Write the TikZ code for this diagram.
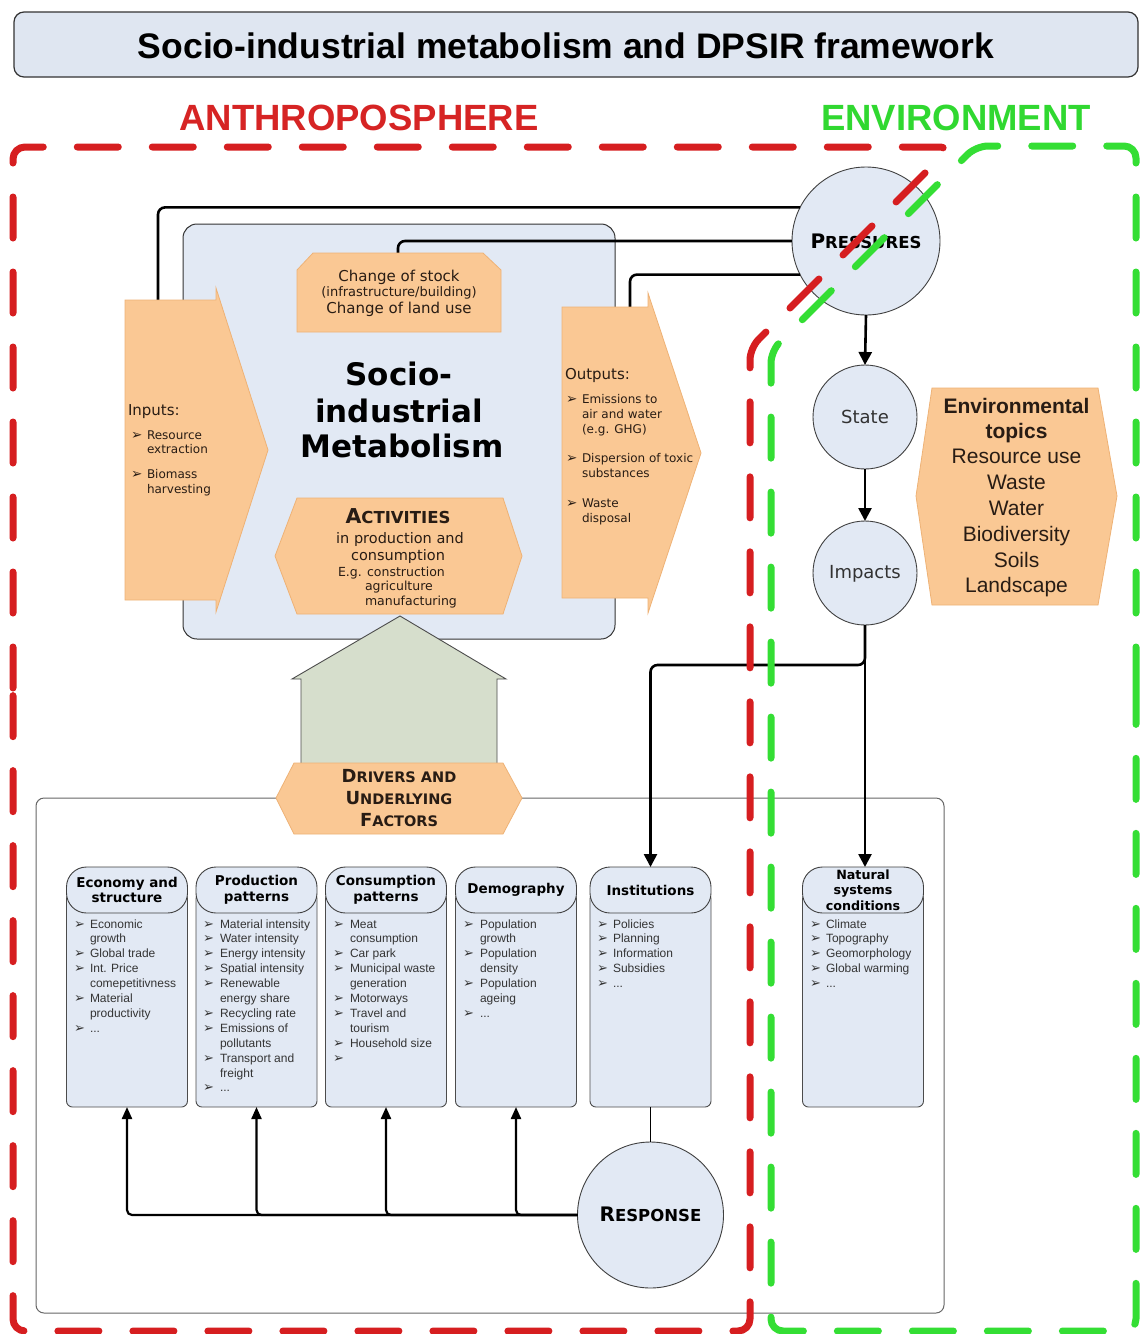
\documentclass[tikz,border=0pt]{standalone}
\usepackage{fontspec}
\setmainfont{DejaVu Sans}
\newfontfamily\arialfont{Liberation Sans}
\usetikzlibrary{arrows.meta}

\definecolor{boxblue}{RGB}{226,233,244}
\definecolor{titlefill}{RGB}{223,230,241}
\definecolor{orfill}{RGB}{250,200,148}
\definecolor{ordraw}{RGB}{238,178,118}
\definecolor{housefill}{RGB}{214,222,204}
\definecolor{redline}{RGB}{214,30,32}
\definecolor{greenline}{RGB}{52,222,52}
\definecolor{redtxt}{RGB}{214,36,36}
\definecolor{greentxt}{RGB}{48,216,48}
\definecolor{itemgray}{RGB}{52,52,52}
\definecolor{ortxt}{RGB}{40,28,20}
\definecolor{circtxt}{RGB}{50,50,50}

\newcommand\setfs[2]{\fontsize{#1}{#2}\selectfont}
\newcommand\tdots{...}

% bulleted item lines of one factor column: prefix, bullet x, text x, list
\newcommand\colitems[4]{%
  \foreach \ib/\itx [count=\k] in {#4} {%
    \node[itemtext,anchor=base west] (#1t\k) at (#3,{928+(\k-1)*14.9}) {\itx};
    \ifnum\ib=1 \node[bullet,anchor=base west] (#1b\k) at (#2,{928+(\k-1)*14.9}) {➢};\fi
  }}

\begin{document}
\begin{tikzpicture}[x=1pt,y=-1pt,
  every node/.style={inner sep=0pt,outer sep=0pt},
  conn/.style={line width=2.6pt,rounded corners=7pt},
  arr/.style={conn,-{Triangle[width=13pt,length=13pt]}},
  sarr/.style={line width=2.2pt,rounded corners=5pt,-{Triangle[width=10pt,length=12pt]}},
  orshape/.style={fill=orfill,draw=ordraw,line width=0.8pt},
  dpsir/.style={circle,fill=boxblue,draw=black!75,line width=0.9pt},
  hdr/.style={rounded corners=20pt,fill=boxblue,draw=black!75,line width=0.9pt,
    minimum width=121pt,minimum height=46pt,align=center,font=\bfseries\setfs{13.5}{15.5}},
  colbody/.style={rounded corners=6pt,fill=boxblue,draw=black!70,line width=0.9pt,
    minimum width=121pt,minimum height=214pt},
  itemtext/.style={font=\arialfont\setfs{12}{14},text=itemgray},
  bullet/.style={font=\setfs{13}{13},text=itemgray},
  ortext/.style={text=ortxt},
  obullet/.style={ortext,anchor=base west,font=\setfs{13.5}{13.5}},
  border/.style={line width=7pt,dash pattern=on 41pt off 34pt,line cap=round,
    line join=round,rounded corners=12pt},
]
\useasboundingbox (0,0) rectangle (1140,1334);
\fill[white] (0,0) rectangle (1140,1334);

% ---------- heading ----------
\node[draw=black!80,line width=1.2pt,fill=titlefill,rounded corners=10pt,
  minimum width=1124pt,minimum height=65pt] (titlebox) at (576,44.5) {};
\node[anchor=base,font=\arialfont\bfseries\setfs{35.5}{40}] (title) at (566,58)
  {Socio-industrial metabolism and DPSIR framework};
\node[anchor=base,font=\arialfont\bfseries\setfs{36.5}{40},text=redtxt] (anthro) at (359,130) {ANTHROPOSPHERE};
\node[anchor=base,font=\arialfont\bfseries\setfs{36.5}{40},text=greentxt] (envir) at (956,130) {ENVIRONMENT};

% ---------- frames ----------
\node[fill=boxblue,draw=black!80,line width=1pt,rounded corners=14pt,
  minimum width=432pt,minimum height=415pt] (sim) at (399,431.5) {};
\node[draw=black!60,line width=1pt,rounded corners=8pt,
  minimum width=908pt,minimum height=515pt] (dbox) at (490,1055.5) {};

% ---------- DPSIR circles ----------
\node[dpsir,minimum size=148pt] (P) at (866,241) {};
\node[dpsir,minimum size=104pt] (S) at (865,417) {};
\node[dpsir,minimum size=104pt] (I) at (865,573) {};
\node[dpsir,minimum size=146pt] (R) at (650.5,1215) {};
\node[anchor=base,font=\bfseries] (Ptxt) at (866,248) {{\setfs{20}{20}P}{\setfs{16.5}{16.5}RESSURES}};
\node[anchor=base,font=\setfs{18}{18},text=circtxt] (Stxt) at (865,423) {State};
\node[anchor=base,font=\setfs{18}{18},text=circtxt] (Itxt) at (865,578) {Impacts};
\node[anchor=base,font=\bfseries] (Rtxt) at (650.5,1221) {{\setfs{20}{20}R}{\setfs{16.5}{16.5}ESPONSE}};

% ---------- pressure links ----------
\coordinate (inTop) at (158,300);
\coordinate (stockTop) at (398,253);
\coordinate (outTop) at (630,307);
\draw[conn] (P.153) -| (inTop);
\draw[conn] (P.west) -| (stockTop);
\draw[conn] (P.207) -| (outTop);
\draw[arr] (P.south) -- (S.north);
\draw[arr] (S.south) -- (I.north);

% ---------- flows of the metabolism ----------
\draw[orshape] (125,300) -- (216,300) -- (216,288) -- (268,450) -- (216,612) -- (216,600) -- (125,600) -- cycle;
\draw[orshape] (562,307) -- (648,307) -- (648,293) -- (701,453) -- (648,613) -- (648,598) -- (562,598) -- cycle;
\draw[orshape] (297,332) -- (297,270) -- (313,253) -- (483,253) -- (501,270) -- (501,332) -- cycle;
\draw[orshape] (297,498) -- (503,498) -- (522,556) -- (503,614) -- (297,614) -- (275,556) -- cycle;

% inputs
\node[ortext,anchor=base west,font=\setfs{15}{15}] (inlab) at (128,415) {Inputs:};
\foreach \yy/\itx [count=\k] in {439/Resource,453/extraction,478/Biomass,493/harvesting}
  \node[ortext,anchor=base west,font=\setfs{12}{12}] (int\k) at (147,\yy) {\itx};
\node[obullet] (inb1) at (131,439) {➢};
\node[obullet] (inb2) at (131,478) {➢};

% outputs
\node[ortext,anchor=base west,font=\setfs{15}{15}] (outlab) at (565,379) {Outputs:};
\foreach \yy/\itx [count=\k] in {403/Emissions to,418/air and water,433/(e.g. GHG),462/Dispersion of toxic,477/substances,507/Waste,522/disposal}
  \node[ortext,anchor=base west,font=\setfs{12}{12}] (outt\k) at (582,\yy) {\itx};
\foreach \yy [count=\k] in {403,462,507}
  \node[obullet] (outb\k) at (566,\yy) {➢};

% change of stock
\node[ortext,anchor=base,font=\setfs{15}{15}] (st1) at (399,281) {Change of stock};
\node[ortext,anchor=base,font=\setfs{13}{13}] (st2) at (399,296) {(infrastructure/building)};
\node[ortext,anchor=base,font=\setfs{15}{15}] (st3) at (399,313) {Change of land use};

% central title
\node[anchor=base,font=\bfseries\setfs{31}{31}] (sim1) at (399,385) {Socio-};
\node[anchor=base,font=\bfseries\setfs{31}{31}] (sim2) at (399,422) {industrial};
\node[anchor=base,font=\bfseries\setfs{31}{31}] (sim3) at (402,457) {Metabolism};

% activities
\node[ortext,anchor=base,font=\bfseries] (act1) at (398,523) {{\setfs{20.5}{20}A}{\setfs{16.5}{16}CTIVITIES}};
\node[ortext,anchor=base,font=\setfs{14.5}{14.5}] (act2) at (400,543) {in production and};
\node[ortext,anchor=base,font=\setfs{14.5}{14.5}] (act3) at (398,560) {consumption};
\node[ortext,anchor=base west,font=\setfs{12.5}{12.5}] (act4) at (338,576) {E.g. construction};
\node[ortext,anchor=base west,font=\setfs{12.5}{12.5}] (act5) at (365,590) {agriculture};
\node[ortext,anchor=base west,font=\setfs{12.5}{12.5}] (act6) at (365,605) {manufacturing};

% ---------- drivers ----------
\draw[fill=housefill,draw=black!70,line width=0.9pt] (301,765) -- (301,679) -- (292,679) -- (400,616) -- (506,679) -- (497,679) -- (497,765);
\draw[orshape] (294,763) -- (503,763) -- (522,798) -- (503,834) -- (294,834) -- (276,798) -- cycle;
\node[ortext,anchor=base,font=\bfseries] (drv1) at (399,782) {{\setfs{18}{18}D}{\setfs{14.5}{14.5}RIVERS AND}};
\node[ortext,anchor=base,font=\bfseries] (drv2) at (399,804) {{\setfs{18}{18}U}{\setfs{14.5}{14.5}NDERLYING}};
\node[ortext,anchor=base,font=\bfseries] (drv3) at (399,826) {{\setfs{18}{18}F}{\setfs{14.5}{14.5}ACTORS}};

% ---------- factor columns ----------
\node[colbody] (be) at (127,1000) {};
\node[colbody] (bp) at (256.5,1000) {};
\node[colbody] (bc) at (386,1000) {};
\node[colbody] (bd) at (516,1000) {};
\node[colbody] (bi) at (650.5,1000) {};
\node[colbody] (bn) at (863,1000) {};
\node[hdr] (he) at (127,890) {Economy and\\structure};
\node[hdr] (hp) at (256.5,890) {Production\\patterns};
\node[hdr] (hc) at (386,890) {Consumption\\patterns};
\node[hdr] (hd) at (516,890) {Demography};
\node[hdr] (hi) at (650.5,890) {Institutions};
\node[hdr,font=\bfseries\setfs{12.7}{15.5}] (hn) at (863,890) {Natural\\systems\\conditions};

\colitems{e}{74}{90}{1/Economic,0/growth,1/Global trade,1/Int. Price,0/comepetitivness,1/Material,0/productivity,1/\tdots}
\colitems{p}{203}{220}{1/Material intensity,1/Water intensity,1/Energy intensity,1/Spatial intensity,1/Renewable,0/energy share,1/Recycling rate,1/Emissions of,0/pollutants,1/Transport and,0/freight,1/\tdots}
\colitems{c}{333}{350}{1/Meat,0/consumption,1/Car park,1/Municipal waste,0/generation,1/Motorways,1/Travel and,0/tourism,1/Household size,1/{}}
\colitems{d}{463}{480}{1/Population,0/growth,1/Population,0/density,1/Population,0/ageing,1/\tdots}
\colitems{i}{597}{613}{1/Policies,1/Planning,1/Information,1/Subsidies,1/\tdots}
\colitems{n}{810}{826}{1/Climate,1/Topography,1/Geomorphology,1/Global warming,1/\tdots}

% ---------- responses and impacts links ----------
\foreach \nm in {e,p,c,d}
  \draw[sarr] (R.west) -| (b\nm.south);
\draw[line width=1.3pt] (bi.south) -- (R.north);
\coordinate (split) at (865,665);
\draw[arr] (I.south) -- (split) -| (hi.north);
\draw[arr] (I.south) -- (I.south |- hn.north);

% ---------- environmental topics ----------
\draw[orshape] (932,388) -- (1098,388) -- (1117,496) -- (1098,605) -- (932,605) -- (916,496) -- cycle;
\node[ortext,anchor=base,font=\arialfont\bfseries\setfs{21}{21}] (et1) at (1016.5,413) {Environmental};
\node[ortext,anchor=base,font=\arialfont\bfseries\setfs{21}{21}] (et2) at (1016.5,438) {topics};
\foreach \yy/\itx [count=\k] in {463/Resource use,489/Waste,515/Water,541/Biodiversity,567/Soils,592/Landscape}
  \node[ortext,anchor=base,font=\arialfont\setfs{21}{21}] (etl\k) at (1016.5,\yy) {\itx};

% ---------- sphere boundaries ----------
\draw[border,draw=redline] (13,700) -- (13,147) -- (951,147) -- (750,348) -- (750,1331) -- (13,1331) -- cycle;
\draw[border,draw=greenline] (1136,700) -- (1136,146) -- (976,146) -- (771,351) -- (771,1331) -- (1136,1331) -- cycle;

\end{tikzpicture}
\end{document}
